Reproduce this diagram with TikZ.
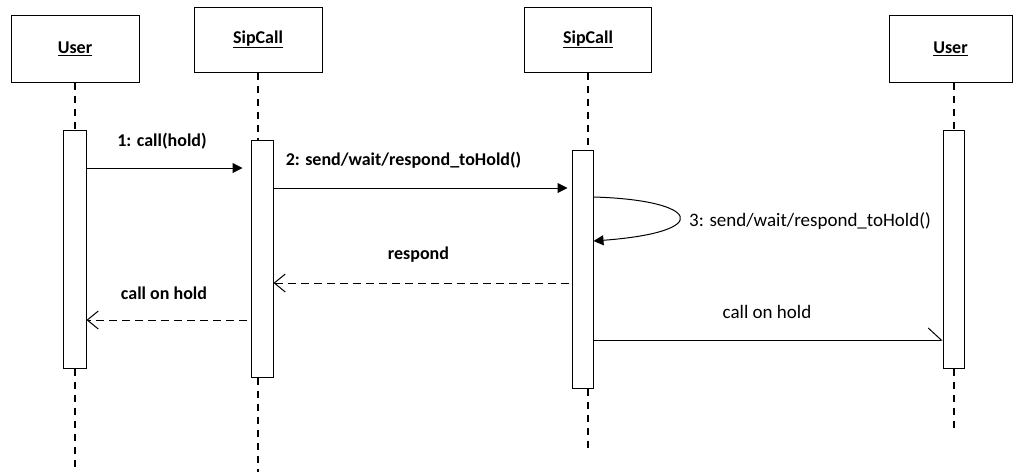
\documentclass[tikz,border=0pt]{standalone}
\usepackage{fontspec}
\setmainfont{Carlito}
\usetikzlibrary{arrows.meta,calc}

\tikzset{
  obj/.style={draw, line width=1pt, minimum width=128pt, inner sep=0pt, font=\bfseries\fontsize{18}{22}\selectfont},
  act/.style={draw, line width=1pt, fill=white, minimum width=22pt, inner sep=0pt},
  life/.style={line width=1.1pt, dash pattern=on 7pt off 6pt},
  msg/.style={line width=1pt, -{Triangle[length=10pt,width=10pt]}},
  reply/.style={line width=1pt, dash pattern=on 8pt off 5pt, -{Straight Barb[length=11pt,width=18pt,line width=1pt]}},
  async/.style={line width=1pt, -{Straight Barb[left,length=13pt,width=24pt,line width=1pt]}},
  lbl/.style={inner sep=0pt, font=\fontsize{19}{22}\selectfont},
  blbl/.style={inner sep=0pt, font=\bfseries\fontsize{18}{21}\selectfont}
}

\begin{document}
\begin{tikzpicture}[x=1pt,y=-1pt]
\useasboundingbox (0,0) rectangle (1013,475);

% object heads
\node[obj, minimum height=67pt] (u1) at (75,48.5) {\underline{User}};
\node[obj, minimum height=65pt] (s1) at (258,39.5) {\underline{SipCall}};
\node[obj, minimum height=65pt, minimum width=127pt] (s2) at (588,39.5) {\underline{SipCall}};
\node[obj, minimum height=67pt, minimum width=123pt] (u2) at (950.5,48.5) {\underline{User}};

% activation bars
\node[act, minimum height=238pt, minimum width=23pt] (a1) at (74.5,249) {};
\node[act, minimum height=237pt] (a2) at (262,258.5) {};
\node[act, minimum height=238pt, minimum width=21pt] (a3) at (582.5,269) {};
\node[act, minimum height=238pt, minimum width=21pt] (a4) at (953.5,249) {};

% lifelines: head to bar, bar to end
\coordinate (e1) at (75,472);
\coordinate (e2) at (258,472);
\coordinate (e3) at (588,453);
\coordinate (e4) at (954,429);
\draw[life] (u1.south) -- (u1.south |- a1.north);
\draw[life] (u1.south |- a1.south) -- (e1);
\draw[life] (s1.south) -- (s1.south |- a2.north);
\draw[life] (s1.south |- a2.south) -- (e2);
\draw[life] (s2.south) -- (s2.south |- a3.north);
\draw[life] (s2.south |- a3.south) -- (e3);
\draw[life] (u2.south -| e4) -- (e4 |- a4.north);
\draw[life] (e4 |- a4.south) -- (e4);

% messages
\draw[msg] (a1.east |- 0,168) -- ($(a2.west |- 0,168)+(-8,0)$);
\node[blbl] (m1) at (162,141) {1: call(hold)};

\draw[msg] (a2.east |- 0,188) -- ($(a3.west |- 0,188)+(-4,0)$);
\node[blbl] (m2) at (403.5,160) {2: send/wait/respond\_toHold()};

\draw[line width=1pt, -{Triangle[length=10pt,width=10pt]}]
  (a3.east |- 0,197) .. controls (700,200) and (715,232) .. (a3.east |- 0,241);
\node[lbl] (m3) at (810,221) {3: send/wait/respond\_toHold()};

\draw[reply] ($(a3.west |- 0,283)+(-3,0)$) -- (a2.east |- 0,283);
\node[blbl] (m4) at (418.5,255) {respond};

\draw[reply] ($(a2.west |- 0,320)+(-4,0)$) -- (a1.east |- 0,320);
\node[blbl] (m5) at (164,293) {call on hold};

\draw[async] (a3.east |- 0,340) -- (a4.west |- 0,340);
\node[lbl] (m6) at (767,312) {call on hold};
\end{tikzpicture}
\end{document}
